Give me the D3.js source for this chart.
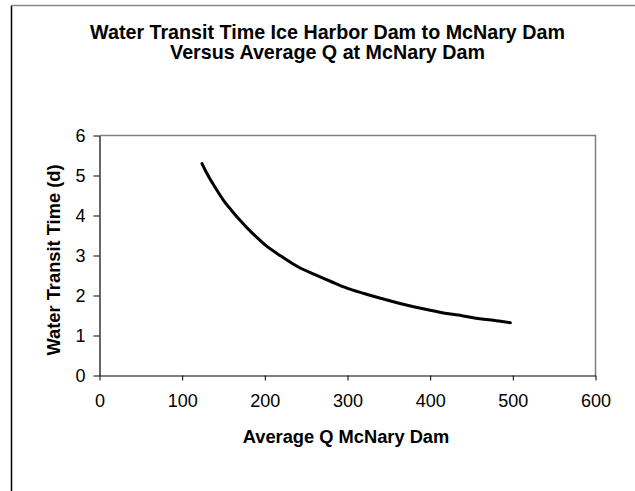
<!DOCTYPE html>
<html>
<head>
<meta charset="utf-8">
<script src="https://cdn.jsdelivr.net/npm/d3@7"></script>
<style>
  body { margin: 0; background: #fff; }
  svg { font-family: "Liberation Sans", Arial, sans-serif; }
</style>
</head>
<body>
<svg id="chart" width="635" height="491"></svg>
<script>
/*** DATA ***/
const titleLines = ['Water Transit Time Ice Harbor Dam to McNary Dam', 'Versus Average Q at McNary Dam'];
const xLabel = 'Average Q McNary Dam';
const yLabel = 'Water Transit Time (d)';
const xTicks = [0, 100, 200, 300, 400, 500, 600];
const yTicks = [0, 1, 2, 3, 4, 5, 6];
// average Q at McNary Dam
const flowQ = [124, 130, 140, 150, 160, 170, 180, 190, 200, 220, 240, 260, 280, 300, 320, 340, 360, 380, 400, 420, 440, 460, 480, 497];
// water transit time in days
const transitDays = [5.30, 5.05, 4.70, 4.38, 4.12, 3.88, 3.66, 3.46, 3.27, 2.98, 2.72, 2.53, 2.35, 2.18, 2.05, 1.93, 1.82, 1.72, 1.63, 1.55, 1.49, 1.42, 1.37, 1.32];

/*** LAYOUT ***/
const plot = {left: 99.5, right: 595.5, top: 135.5, bottom: 375.5};
const svg = d3.select('#chart');

// outer chart frame (cropped on right and bottom)
svg.append('line').attr('x1', 11.5).attr('x2', 11.5).attr('y1', 5.5).attr('y2', 491)
   .attr('stroke', '#000').attr('stroke-width', 1.5);
svg.append('line').attr('x1', 11.5).attr('x2', 635).attr('y1', 5.5).attr('y2', 5.5)
   .attr('stroke', '#888').attr('stroke-width', 1.5);

/*** SCALES ***/
const x = d3.scaleLinear().domain([0, 600]).range([plot.left, plot.right]);
const y = d3.scaleLinear().domain([0, 6]).range([plot.bottom, plot.top]);

// plot area border (top + right grey)
svg.append('path')
   .attr('d', `M${plot.left},${plot.top}H${plot.right}V${plot.bottom}`)
   .attr('fill', 'none').attr('stroke', '#808080').attr('stroke-width', 1.5);

/*** AXES ***/
const xAxis = svg.append('g')
   .attr('transform', `translate(0,${plot.bottom})`)
   .call(d3.axisBottom(x).tickValues(xTicks).tickFormat(d3.format('d'))
           .tickSize(5).tickPadding(14).tickSizeOuter(0));
const yAxis = svg.append('g')
   .attr('transform', `translate(${plot.left},0)`)
   .call(d3.axisLeft(y).tickValues(yTicks).tickFormat(d3.format('d'))
           .tickSize(6).tickPadding(8).tickSizeOuter(0));

[xAxis, yAxis].forEach(g => {
  g.select('.domain').attr('stroke', '#000').attr('stroke-width', 1.2);
  g.selectAll('.tick line').attr('stroke', '#000');
  g.selectAll('.tick text')
   .attr('fill', '#000')
   .style('font-family', '"Liberation Sans", Arial, sans-serif')
   .style('font-size', '18px');
});

/*** CURVE ***/
const series = flowQ.map((q, i) => ({q, t: transitDays[i]}));
const line = d3.line().x(d => x(d.q)).y(d => y(d.t)).curve(d3.curveMonotoneX);
svg.append('path')
   .datum(series)
   .attr('d', line)
   .attr('fill', 'none')
   .attr('stroke', '#000')
   .attr('stroke-width', 3)
   .attr('stroke-linecap', 'round');

/*** TEXT ***/
svg.selectAll('text.title')
   .data(titleLines)
   .enter().append('text')
   .attr('class', 'title')
   .attr('x', 327.5)
   .attr('y', (d, i) => 38.5 + i * 20)
   .attr('text-anchor', 'middle')
   .style('font-size', '19.7px')
   .style('font-weight', 'bold')
   .text(d => d);

svg.append('text')
   .attr('x', 346)
   .attr('y', 443)
   .attr('text-anchor', 'middle')
   .style('font-size', '18.3px')
   .style('font-weight', 'bold')
   .text(xLabel);

svg.append('text')
   .attr('transform', 'translate(60,260) rotate(-90)')
   .attr('text-anchor', 'middle')
   .style('font-size', '18.3px')
   .style('font-weight', 'bold')
   .text(yLabel);
</script>
</body>
</html>
